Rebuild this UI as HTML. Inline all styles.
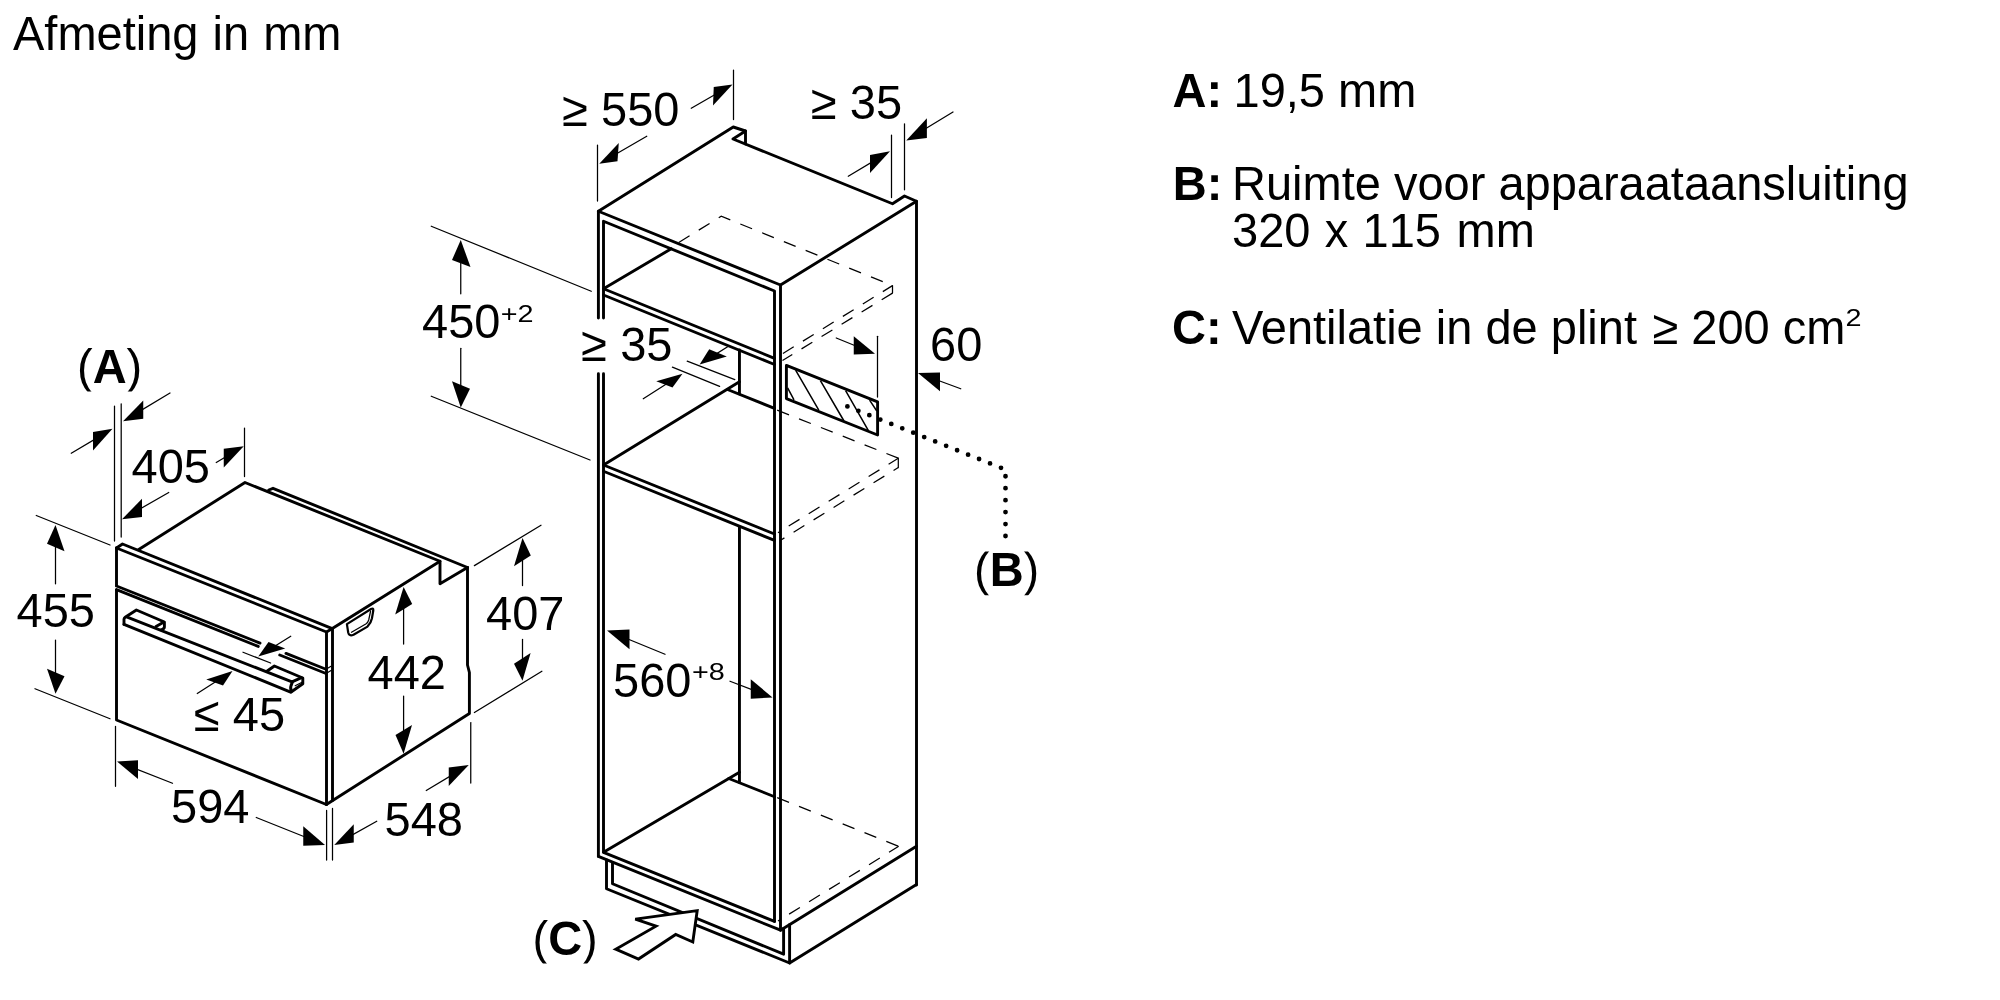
<!DOCTYPE html>
<html lang="nl">
<head>
<meta charset="utf-8">
<title>Afmeting in mm</title>
<style>
html,body{margin:0;padding:0;background:#fff;}
body{width:2000px;height:1000px;overflow:hidden;font-family:"Liberation Sans",Arial,Helvetica,sans-serif;}
svg{display:block;will-change:transform;}
</style>
</head>
<body>
<svg width="2000" height="1000" viewBox="0 0 2000 1000">
<g fill="none" stroke="#000" stroke-width="2.9" stroke-linejoin="round" stroke-linecap="round">
<path d="M116.5,548 V585.3 M116.5,590.2 V720 L326.4,804.5"/>
<path d="M116.5,548 L326.5,632 V804.5"/>
<path d="M116.5,548 L122.5,544 L332.3,628.6 L326.5,632"/>
<path d="M332.5,628.6 V800.6"/>
<path d="M326.4,804.5 L469.4,713.5 V672.5 L467.5,665 V567.5"/>
<path d="M138.75,549.4 L245,482.5 L440,561.25 V583.75 L467.5,567.5"/>
<path d="M268.75,490 L273,488.3 L467.5,567.5"/>
<path d="M332.3,628.6 L440,561.25"/>
<path d="M116.5,586 L260,643.1 M286,653.4 L326,669.25"/>
<path d="M116.5,589.6 L258.25,646.4 M279.75,655 L326,673.5"/>
<path d="M124,624.4 L290,691.8"/>
<path d="M127.2,617.2 L292,681.8 L301.5,677.7"/>
<path d="M124,624.4 V619.3 Q124,618 125.2,617.2 L136.4,610 L164.4,622 V627 Q164.2,629 161,629.8"/>
<path d="M156,626.6 L163.5,622.2"/>
<path d="M267.2,671 L274.4,666 L302.8,678 V683.8 L290.8,692.2"/>
<path d="M292.3,682.5 Q289.6,687 291.2,691.5"/>
<path d="M598.4,856.4 V373.7 M598.4,318 V211.25 L733.25,127 L745.5,131 V144"/>
<path d="M745.5,131 L733,139 L892.5,203.75 L904.5,196 L916.5,201.25 V885"/>
<path d="M598.4,211.25 L780.5,285 L916.5,201.25"/>
<path d="M603.5,852.3 V373.7 M603.5,318 V221.25 L774.5,291 V921.4"/>
<path d="M780.5,285 V930.2"/>
<path d="M671.25,248.75 L603.5,288.75 L774.5,358.3"/>
<path d="M603.5,295 L774.5,364.5"/>
<path d="M739.45,350 V394"/>
<path d="M727.5,389.5 L774.5,408.4"/>
<path d="M739.45,381.8 L603.5,465 L774.5,534"/>
<path d="M603.5,471.25 L774.5,540.4"/>
<path d="M739.45,527.5 V782.5"/>
<path d="M739.45,772.3 L603.5,852.3 L774.5,921.4"/>
<path d="M728.75,778.5 L774.5,796.75"/>
<path d="M598.4,856.4 L780.5,930.2 L916.5,846.25"/>
<path d="M606.5,860 V888.75 L789.6,963 V924.6"/>
<path d="M612.5,862.6 V883.75 L783.6,954.2 V928.5"/>
<path d="M789.6,963 L916.5,884.6"/>
<path d="M786.4,365.4 L877.6,401.8 V435 L786.4,398.6 Z"/>
</g>
<g fill="none" stroke="#000" stroke-width="1.25" stroke-linecap="round">
<path d="M326,669.25 L331,666.3 M326,673.5 L331.5,670.3"/>
<path d="M295.2,685.8 L302.5,682"/>
<path d="M370.6,611 L368.7,620 Q368,622.6 365.8,624 L351.5,632.3"/>
<path d="M114.5,406 V541 M121.2,403.75 V537"/>
<path d="M170,393 L129.86,417.13"/>
<path d="M71.25,453.25 L105.62,432.84"/>
<path d="M244.5,428 V476.5"/>
<path d="M216.25,462.5 L236.86,450.32"/>
<path d="M168.75,492.5 L128.94,515.28"/>
<path d="M36.25,515.5 L110,545 M35,688.75 L110,718.75"/>
<path d="M55.5,583.75 L55.5,533.0"/>
<path d="M55.5,640 L55.5,685.75"/>
<path d="M115.5,726.25 V786.25 M326.6,810.4 V860 M332.5,808.4 V860"/>
<path d="M172.5,783.25 L124.45,764.42"/>
<path d="M256.25,817.5 L317.57,842.03"/>
<path d="M470.75,722.5 V783"/>
<path d="M376.75,821.25 L341.23,841.1"/>
<path d="M426.25,790.5 L461.89,769.12"/>
<path d="M403.6,644 L403.6,594.9"/>
<path d="M403.6,696 L403.6,745.75"/>
<path d="M474.4,565.6 L541,525.2 M474.4,712.5 L541.9,671.25"/>
<path d="M522.5,585.6 L522.5,546.0"/>
<path d="M522.5,639.4 L522.5,672.8"/>
<path d="M290.75,636.25 L265.04,652.27"/>
<path d="M243,652.25 L270.6,663"/>
<path d="M197.25,693.5 L225.76,675.3"/>
<path d="M892.5,285.6 V293.1 M898.3,458.2 V467.5"/>
<path d="M597.5,145 V201 M733.5,70 V119.5"/>
<path d="M691.25,108.25 L725.57,88.49"/>
<path d="M646.75,136.25 L606.17,159.74"/>
<path d="M891.5,135 V197.5 M904.5,123.75 V189.75"/>
<path d="M953,112 L913.08,136.34"/>
<path d="M848.25,176.25 L883.14,155.36"/>
<path d="M431.25,226.25 L591.25,291.25 M431.25,396.25 L590,460"/>
<path d="M460.75,293.75 L460.75,248.0"/>
<path d="M460.75,348.25 L460.75,399.5"/>
<path d="M687.2,361.2 L734.8,379.6 M672.4,367.2 L719.6,386.4"/>
<path d="M727.6,346.8 L706.37,360.14"/>
<path d="M643.25,398.75 L675.75,378.05"/>
<path d="M877.5,336.25 V397"/>
<path d="M836.25,338 L867.59,350.74"/>
<path d="M960.75,388.75 L925.51,375.77"/>
<path d="M665,654.25 L614.4,633.53"/>
<path d="M730,681.25 L765.03,694.64"/>
</g>
<g fill="none" stroke="#000" stroke-width="1.25" stroke-dasharray="12.7 10.8">
<path d="M678.75,242.5 L721.25,216.25 L892.5,285.6"/>
<path d="M892.5,285.6 L782.5,353.75" stroke-dashoffset="1.3"/>
<path d="M892.5,293.1 L782.5,360.5"/>
<path d="M777.2,410.2 L898.3,458.2"/>
<path d="M898.3,458.2 L778,532.7" stroke-dashoffset="1.3"/>
<path d="M898.3,467.5 L781,540" stroke-dashoffset="7.1"/>
<path d="M777.2,797.7 L898.7,846.3"/>
<path d="M898.7,846.3 L778,921" stroke-dashoffset="1.3"/>
</g>
<g fill="#000" stroke="none">
<polygon points="123,421.25 143.25,400.5 143.25,418.75"/>
<polygon points="112.5,428.75 93,432 93,450.5"/>
<polygon points="243.75,446.25 223.75,448.75 223.75,467.5"/>
<polygon points="122,519.25 142,498.75 142,517"/>
<polygon points="55.5,525 47,543.75 64.5,551.25"/>
<polygon points="55.5,693.75 47,668.75 64.5,676.25"/>
<polygon points="117,761.5 138,760.25 138,779"/>
<polygon points="325,845 303.25,826.25 303.25,845.75"/>
<polygon points="334.25,845 353.75,824.25 353.75,842.5"/>
<polygon points="468.75,765 448.75,767.5 448.75,786"/>
<polygon points="403.6,586.9 395.2,614.5 412.2,604"/>
<polygon points="403.6,753.75 395.5,735 412,725"/>
<polygon points="522.5,538 514,566.25 530.8,555.5"/>
<polygon points="522.5,680.8 514,663.75 530.6,653"/>
<polygon points="258.25,656.5 268.5,642 285.25,648.5"/>
<polygon points="232.5,671 206.25,679.4 223,685.6"/>
<polygon points="732.5,84.5 713.75,87 713,105.5"/>
<polygon points="599.25,163.75 618.75,143 617.5,161.25"/>
<polygon points="906.25,140.5 926.9,118.3 926.9,138"/>
<polygon points="890,151.25 870,155 870,173"/>
<polygon points="460.75,240 452,260 470.5,267"/>
<polygon points="460.75,407.5 452,381.25 470,388.75"/>
<polygon points="699.6,364.4 709.2,349.2 726.8,356.4"/>
<polygon points="682.5,373.75 656.25,381.25 672.5,387.5"/>
<polygon points="875,353.75 853.75,336.25 853.75,354.5"/>
<polygon points="918,373 940,372.5 940,391.25"/>
<polygon points="607,630.5 629.5,629.5 629.5,649.25"/>
<polygon points="772.5,697.5 750.75,679.25 750.75,698.75"/>
</g>
<path d="M346.9,624.1 L371,609 Q373.6,607.6 373.3,610.5 L371.9,618.5 Q371,623 367.5,626.6 L353.5,634.7 Q349,636.6 348.2,632.5 Z" fill="none" stroke="#000" stroke-width="2.2" stroke-linejoin="round"/>
<path d="M615.7,949.2 L638.5,959 L675.7,934.5 L692.8,942 L697.2,910.6 L635.3,919.1 L656,926.2 Z" fill="#fff" stroke="#000" stroke-width="2.9" stroke-linejoin="miter"/>
<path d="M787.6,387.8 L794,399.8 M795.6,370.2 L818.8,410.2 M820.4,380.6 L844,421 M845.6,390.6 L868.4,430.6 M869.6,400.2 L876.8,411" fill="none" stroke="#000" stroke-width="1.5"/>
<g fill="none" stroke="#000" stroke-width="4.8" stroke-linecap="round"><path d="M847.4,406.4 L1001.3,467.9" stroke-dasharray="0 11.815"/><path d="M1005.5,476.25 V536.3" stroke-dasharray="0 11.95"/></g>
<defs><clipPath id="ca"><rect x="60" y="347.6" width="100" height="44"/></clipPath><clipPath id="cb"><rect x="960" y="551.6" width="100" height="43.6"/></clipPath><clipPath id="cc"><rect x="520" y="919.6" width="100" height="44"/></clipPath></defs>
<g fill="#000" font-family="'Liberation Sans', Arial, Helvetica, sans-serif">
<text transform="translate(13,50.4) scale(1,1.03)" font-size="47"><tspan word-spacing="1">Afmeting in mm</tspan></text>
<g clip-path="url(#ca)"><text transform="translate(77,383.3) scale(1,1.04)" font-size="47">(<tspan font-weight="700">A</tspan>)</text></g>
<text transform="translate(131.5,483.3) scale(1,1.04)" font-size="47">405</text>
<text transform="translate(16.5,627.05) scale(1,1.04)" font-size="47">455</text>
<text transform="translate(194,730.8) scale(1,1.04)" font-size="47">≤ 45</text>
<text transform="translate(171,822.8) scale(1,1.04)" font-size="47">594</text>
<text transform="translate(384.5,835.8) scale(1,1.04)" font-size="47">548</text>
<text transform="translate(367.5,688.8) scale(1,1.04)" font-size="47">442</text>
<text transform="translate(486,629.55) scale(1,1.04)" font-size="47">407</text>
<text transform="translate(562.25,125.8) scale(1,1.04)" font-size="47">≥ 550</text>
<text transform="translate(811,118.8) scale(1,1.04)" font-size="47">≥ 35</text>
<text transform="translate(422,338.3) scale(1,1.04)" font-size="47">450</text>
<text transform="translate(500.8,321.75) scale(1.2,1.03)" font-size="24">+2</text>
<text transform="translate(581.3,360.8) scale(1,1.04)" font-size="47">≥ 35</text>
<text transform="translate(930,360.8) scale(1,1.04)" font-size="47">60</text>
<text transform="translate(613,697.05) scale(1,1.04)" font-size="47">560</text>
<text transform="translate(691.9,680.25) scale(1.2,1.03)" font-size="24">+8</text>
<g clip-path="url(#cb)"><text transform="translate(974,586.3) scale(1,1.04)" font-size="47">(<tspan font-weight="700">B</tspan>)</text></g>
<g clip-path="url(#cc)"><text transform="translate(532.5,954.55) scale(1,1.04)" font-size="47">(<tspan font-weight="700">C</tspan>)</text></g>
<text transform="translate(1172.5,107.4) scale(1,1.04)" font-size="47" font-weight="700">A:</text>
<text transform="translate(1233.5,107.4) scale(1,1.03)" font-size="47">19,5 mm</text>
<text transform="translate(1172.75,199.9) scale(1,1.04)" font-size="47" font-weight="700">B:</text>
<text transform="translate(1232,199.9) scale(1,1.03)" font-size="47">Ruimte voor apparaataansluiting</text>
<text transform="translate(1232,247.4) scale(1,1.03)" font-size="47"><tspan style="font-kerning:none">320<tspan dx="1.2"> x</tspan><tspan dx="1.3"> 115</tspan><tspan dx="2.6"> mm</tspan></tspan></text>
<text transform="translate(1172,343.9) scale(1,1.04)" font-size="47" font-weight="700">C:</text>
<text transform="translate(1232,343.9) scale(1,1.03)" font-size="47">Ventilatie in de plint <tspan dx="2.5">≥ 200 cm</tspan></text>
<text transform="translate(1845.4,326) scale(1.2,1.03)" font-size="24">2</text>
</g>
</svg>
</body>
</html>
